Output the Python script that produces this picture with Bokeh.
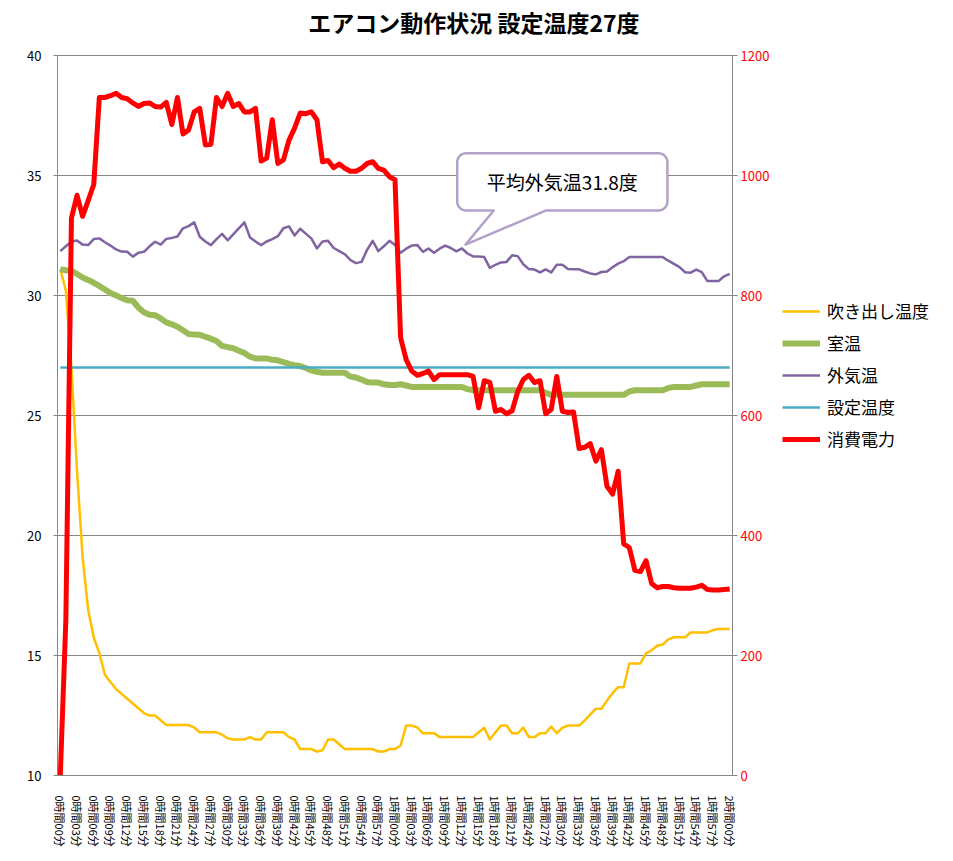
import numpy as np
from bokeh.plotting import figure
from bokeh.layouts import column, row
from bokeh.models import (Range1d, LinearAxis, FixedTicker, Legend, LegendItem,
                          Label, ColumnDataSource)
from bokeh.embed import file_html
from bokeh.resources import INLINE

FONT = "Noto Sans CJK JP"

# ---------------- data (one value per minute, 0..120) ----------------
minutes = list(range(121))

outlet_temp = [
    31.1, 30.2, 27.0, 22.7, 19.1, 16.9, 15.75, 15.1, 14.2, 13.9,
    13.6, 13.4, 13.2, 13.0, 12.8, 12.6, 12.5, 12.5, 12.3, 12.1,
    12.1, 12.1, 12.1, 12.1, 12.0, 11.8, 11.8, 11.8, 11.8, 11.7,
    11.55, 11.5, 11.5, 11.5, 11.6, 11.5, 11.5, 11.8, 11.8, 11.8,
    11.8, 11.6, 11.5, 11.1, 11.1, 11.1, 11.0, 11.05, 11.5, 11.5,
    11.3, 11.1, 11.1, 11.1, 11.1, 11.1, 11.1, 11.0, 11.0, 11.1,
    11.1, 11.25, 12.08, 12.08, 12.0, 11.76, 11.76, 11.76, 11.6, 11.6,
    11.6, 11.6, 11.6, 11.6, 11.6, 11.8, 11.99, 11.5, 11.8, 12.08,
    12.08, 11.76, 11.76, 12.0, 11.6, 11.6, 11.76, 11.76, 12.04, 11.76,
    11.99, 12.08, 12.08, 12.08, 12.29, 12.55, 12.78, 12.78, 13.12, 13.43,
    13.68, 13.68, 14.67, 14.67, 14.67, 15.09, 15.22, 15.41, 15.46, 15.67,
    15.76, 15.76, 15.76, 15.96, 15.96, 15.96, 15.96, 16.06, 16.1, 16.1,
    16.1,
]

room_temp = [
    31.1, 31.05, 31.02, 30.9, 30.75, 30.65, 30.53, 30.4, 30.25, 30.1,
    30.0, 29.9, 29.8, 29.78, 29.5, 29.3, 29.2, 29.18, 29.05, 28.88,
    28.8, 28.7, 28.55, 28.4, 28.37, 28.36, 28.28, 28.2, 28.1, 27.9,
    27.85, 27.8, 27.7, 27.6, 27.45, 27.38, 27.38, 27.38, 27.32, 27.3,
    27.22, 27.15, 27.1, 27.06, 26.98, 26.88, 26.82, 26.78, 26.78, 26.78,
    26.78, 26.78, 26.62, 26.58, 26.5, 26.4, 26.37, 26.37, 26.3, 26.27,
    26.27, 26.3, 26.25, 26.19, 26.19, 26.19, 26.19, 26.19, 26.19, 26.19,
    26.19, 26.19, 26.19, 26.1, 26.05, 26.05, 26.05, 26.05, 26.05, 26.05,
    26.05, 26.05, 26.05, 26.05, 26.05, 26.05, 26.05, 25.95, 25.86, 25.86,
    25.86, 25.86, 25.86, 25.86, 25.86, 25.86, 25.86, 25.86, 25.86, 25.86,
    25.86, 25.86, 26.0, 26.05, 26.05, 26.05, 26.05, 26.05, 26.05, 26.15,
    26.19, 26.19, 26.19, 26.19, 26.25, 26.3, 26.3, 26.3, 26.3, 26.3,
    26.3,
]

outside_temp = [
    31.85, 32.05, 32.25, 32.29, 32.12, 32.1, 32.35, 32.38, 32.22, 32.08,
    31.92, 31.83, 31.82, 31.62, 31.78, 31.82, 32.05, 32.24, 32.12, 32.36,
    32.4, 32.46, 32.8, 32.89, 33.05, 32.45, 32.25, 32.1, 32.35, 32.57,
    32.3, 32.55, 32.8, 33.05, 32.42, 32.25, 32.1, 32.25, 32.35, 32.47,
    32.8, 32.88, 32.5, 32.78, 32.58, 32.38, 31.96, 32.25, 32.28, 31.98,
    31.85, 31.72, 31.48, 31.35, 31.4, 31.9, 32.28, 31.85, 32.05, 32.28,
    32.1, 31.78, 31.95, 32.08, 32.1, 31.82, 31.96, 31.78, 31.95, 32.08,
    31.98, 31.84, 31.96, 31.75, 31.63, 31.62, 31.6, 31.15, 31.28, 31.38,
    31.4, 31.68, 31.64, 31.3, 31.1, 31.08, 30.96, 31.09, 30.96, 31.28,
    31.28, 31.1, 31.09, 31.09, 31.0, 30.92, 30.88, 30.98, 31.0, 31.18,
    31.33, 31.43, 31.6, 31.6, 31.6, 31.6, 31.6, 31.6, 31.6, 31.45,
    31.32, 31.18, 30.97, 30.95, 31.08, 30.97, 30.6, 30.6, 30.6, 30.8,
    30.9,
]

set_temp = [27.0] * 121

power = [
    0, 260, 929, 967, 932, 958, 985, 1130, 1130, 1133,
    1137, 1130, 1128, 1121, 1115, 1120, 1121, 1115, 1114, 1122,
    1085, 1130, 1069, 1076, 1106, 1112, 1051, 1052, 1130, 1115,
    1137, 1115, 1120, 1106, 1106, 1112, 1024, 1029, 1093, 1020,
    1026, 1059, 1079, 1104, 1103, 1106, 1093, 1023, 1025, 1013,
    1019, 1012, 1007, 1007, 1012, 1020, 1023, 1012, 1009, 998,
    993, 730, 693, 674, 667, 670, 674, 660, 668, 668,
    668, 668, 668, 668, 665, 613, 658, 655, 607, 610,
    603, 608, 640, 660, 667, 655, 658, 603, 610, 665,
    607, 605, 606, 545, 547, 553, 524, 543, 482, 469,
    507, 386, 380, 342, 340, 358, 320, 313, 315, 315,
    313, 312, 312, 312, 314, 317, 310, 309, 309, 310,
    311,
]

x_ticks = list(range(0, 121, 3))
x_tick_labels = [f"{m // 60}時間{m % 60:02d}分" for m in x_ticks]
temp_ticks = [10, 15, 20, 25, 30, 35, 40]
power_ticks = [0, 200, 400, 600, 800, 1000, 1200]

series_names = ["吹き出し温度", "室温", "外気温", "設定温度", "消費電力"]
series_cols = ["outlet", "room", "outside", "setp", "power"]
series_colors = ["#FFC000", "#9BBB59", "#8064A2", "#4BACC6", "#FF0000"]
series_widths = [2.5, 6, 2.5, 2.5, 5]
title_text = "エアコン動作状況  設定温度27度"
callout_text = "平均外気温31.8度"

src = ColumnDataSource(dict(m=minutes, outlet=outlet_temp, room=room_temp,
                            outside=outside_temp, setp=set_temp, power=power))

W, H = 953, 861
TITLE_H = 40

# ---------------- title strip ----------------
pt = figure(width=W, height=TITLE_H, output_backend="svg", toolbar_location=None,
            x_range=Range1d(0, W), y_range=Range1d(0, TITLE_H),
            min_border=0, x_axis_location=None, y_axis_location=None,
            outline_line_color=None, border_fill_color="white")
pt.grid.visible = False
pt.add_layout(Label(x=476, y=TITLE_H - 21, text=title_text, text_align="center",
                    text_baseline="middle", text_font=FONT, text_font_size="23px",
                    text_font_style="bold", text_color="black"))

# ---------------- main chart ----------------
PW = 780
p = figure(width=PW, height=H - TITLE_H, output_backend="svg", toolbar_location=None,
           x_range=Range1d(-0.5, 120.5), y_range=Range1d(10, 40),
           min_border_left=57, min_border_right=48, min_border_top=55 - TITLE_H,
           min_border_bottom=86, background_fill_color="white",
           border_fill_color="white")
p.outline_line_color = "#868686"
p.extra_y_ranges = {"power": Range1d(0, 1200)}

xa = p.xaxis[0]
xa.ticker = FixedTicker(ticks=x_ticks)
xa.major_label_overrides = {t: l for t, l in zip(x_ticks, x_tick_labels)}
xa.major_label_orientation = "vertical"
xa.major_label_text_font = FONT
xa.major_label_text_font_size = "11px"
xa.major_label_text_color = "black"
xa.major_label_standoff = 14
xa.major_tick_line_color = None
xa.minor_tick_line_color = None
xa.axis_line_color = "#868686"

ya = p.left[0]
ya.ticker = FixedTicker(ticks=temp_ticks)
ya.major_label_text_font = FONT
ya.major_label_text_font_size = "13px"
ya.major_label_text_color = "black"
ya.major_label_standoff = 12
ya.major_tick_out = 4
ya.major_tick_in = 0
ya.major_tick_line_color = "#868686"
ya.minor_tick_line_color = None
ya.axis_line_color = "#868686"

ra = LinearAxis(y_range_name="power", ticker=FixedTicker(ticks=power_ticks))
ra.major_label_text_font = FONT
ra.major_label_text_font_size = "13px"
ra.major_label_text_color = "#FF0000"
ra.major_label_standoff = 3
ra.major_tick_out = 5
ra.major_tick_in = 0
ra.major_tick_line_color = "#868686"
ra.minor_tick_line_color = None
ra.axis_line_color = "#868686"
p.add_layout(ra, "right")

p.xgrid.grid_line_color = None
p.ygrid.grid_line_color = "#868686"
p.ygrid.ticker = FixedTicker(ticks=temp_ticks)

for col, c, w in zip(series_cols, series_colors, series_widths):
    kw = dict(y_range_name="power") if col == "power" else {}
    p.line("m", col, source=src, line_color=c, line_width=w, line_join="round", **kw)

# callout box with tail (annotation)
SX, SY = 5.574, 24.0          # px per data unit (x, y)
X0, X1, Y0, Y1 = 71.15, 108.83, 33.54, 35.93
TAIL_A, TAIL_B = 77.7, 87.0
TIP = (72.64, 32.12)
rad = 9.0
rx, ry = rad / SX, rad / SY
cx_ = [X0 + rx, TAIL_A, TIP[0], TAIL_B, X1 - rx]
cy_ = [Y0, Y0, TIP[1], Y0, Y0]
for (cx, cy, a0, a1) in [(X1 - rx, Y0 + ry, -90, 0), (X1 - rx, Y1 - ry, 0, 90),
                         (X0 + rx, Y1 - ry, 90, 180), (X0 + rx, Y0 + ry, 180, 270)]:
    t = np.linspace(np.radians(a0), np.radians(a1), 8)
    cx_ += list(cx + rx * np.cos(t))
    cy_ += list(cy + ry * np.sin(t))
p.patch(cx_, cy_, fill_color="white", line_color="#B3A2C7", line_width=2.5, line_join="round")
p.add_layout(Label(x=(X0 + X1) / 2, y=(Y0 + Y1) / 2, text=callout_text,
                   text_align="center", text_baseline="middle",
                   text_font=FONT, text_font_size="19px", text_color="black"))

# ---------------- legend strip (right of the chart) ----------------
pl = figure(width=W - PW, height=H - TITLE_H, output_backend="svg", toolbar_location=None,
            x_range=Range1d(1000, 1001), y_range=Range1d(1000, 1001),
            min_border=0, x_axis_location=None, y_axis_location=None,
            outline_line_color=None, border_fill_color="white")
pl.grid.visible = False
items = []
for name, col, c, w in zip(series_names, series_cols, series_colors, series_widths):
    r = pl.line("m", col, source=src, line_color=c, line_width=w)
    items.append(LegendItem(label=name, renderers=[r]))
legend = Legend(items=items, location=(2, 324), orientation="vertical")
legend.glyph_width = 38
legend.glyph_height = 20
legend.label_height = 20
legend.spacing = 7
legend.padding = 0
legend.margin = 0
legend.label_standoff = 7
legend.label_text_font = FONT
legend.label_text_font_size = "17px"
legend.label_text_color = "black"
legend.border_line_color = None
legend.background_fill_alpha = 0
pl.add_layout(legend, "center")

layout = column(pt, row(p, pl, spacing=0), spacing=0)
open("out.html", "w").write(file_html(layout, INLINE))
